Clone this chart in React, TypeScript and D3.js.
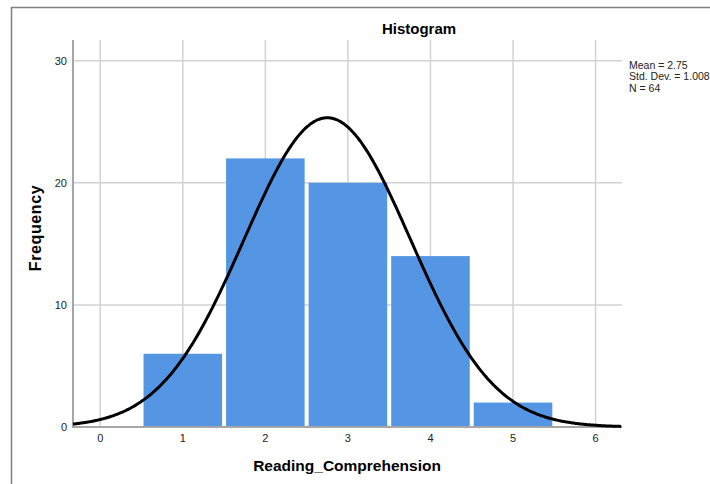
import * as d3 from "d3";

const bins = [1, 2, 3, 4, 5];
const counts = [6, 22, 20, 14, 2];
const xTickValues = [0, 1, 2, 3, 4, 5, 6];
const yTickValues = [0, 10, 20, 30];
const mean = 2.75;
const stdDev = 1.008;
const n = 64;
const statLines = ["Mean = 2.75", "Std. Dev. = 1.008", "N = 64"];

const W = 710;
const H = 484;
const plot = { left: 73, right: 622, top: 40, bottom: 427 };

export default function App() {
  const x = d3.scaleLinear().domain([-0.33, 6.32]).range([plot.left, plot.right]);
  const y = d3.scaleLinear().domain([0, 31.7]).range([plot.bottom, plot.top]);

  // fitted normal curve from the stated mean / sd, scaled to bin width 1
  const pdf = (v: number) =>
    (n / (stdDev * Math.sqrt(2 * Math.PI))) * Math.exp(-0.5 * ((v - mean) / stdDev) ** 2);
  const xs = d3.range(x.domain()[0], x.domain()[1] + 0.001, 0.02);
  const curve = d3
    .line<number>()
    .x((v) => x(v))
    .y((v) => y(pdf(v)))
    .curve(d3.curveBasis)(xs) ?? "";

  const font = "Arial, 'Liberation Sans', sans-serif";

  return (
    <div style={{ position: "fixed", left: 0, top: 0 }}>
      <svg width={W} height={H} style={{ display: "block", background: "#fff" }}>
        {/* outer frame (top + left only) */}
        <line x1={11} x2={W} y1={7.5} y2={7.5} stroke="#808080" strokeWidth={1.5} />
        <line x1={11.5} x2={11.5} y1={7} y2={H} stroke="#808080" strokeWidth={1.5} />

        {/* gridlines */}
        {yTickValues.filter((t) => t > 0).map((t) => (
          <line key={`gy${t}`} x1={plot.left} x2={plot.right} y1={y(t)} y2={y(t)} stroke="#d2d2d2" strokeWidth={1.5} />
        ))}
        {xTickValues.map((t) => (
          <line key={`gx${t}`} x1={x(t)} x2={x(t)} y1={plot.top} y2={plot.bottom} stroke="#d2d2d2" strokeWidth={1.5} />
        ))}

        {/* bars */}
        {bins.map((b, i) => {
          const x0 = x(b - 0.5) + 2;
          const x1 = x(b + 0.5) - 2;
          return (
            <rect key={b} x={x0} y={y(counts[i])} width={x1 - x0} height={y(0) - y(counts[i])} fill="#5596e4" />
          );
        })}

        {/* axes */}
        <line x1={plot.left} x2={plot.right} y1={plot.bottom} y2={plot.bottom} stroke="#a6a6a6" strokeWidth={2} />
        <line x1={plot.left} x2={plot.left} y1={plot.top} y2={plot.bottom + 1} stroke="#a6a6a6" strokeWidth={2} />

        {/* normal curve */}
        <path d={curve} fill="none" stroke="#000" strokeWidth={3} />

        {/* tick labels */}
        {yTickValues.map((t) => (
          <text key={`yt${t}`} x={67} y={y(t) + 4} textAnchor="end" fontSize={11} fill="#222" fontFamily={font}>
            {t}
          </text>
        ))}
        {xTickValues.map((t) => (
          <text key={`xt${t}`} x={x(t)} y={442} textAnchor="middle" fontSize={11} fill="#222" fontFamily={font}>
            {t}
          </text>
        ))}

        {/* titles */}
        <text x={419} y={34} textAnchor="middle" fontSize={15} fontWeight="bold" fill="#000" fontFamily={font}>
          Histogram
        </text>
        <text x={347} y={471} textAnchor="middle" fontSize={15.5} fontWeight="bold" fill="#000" fontFamily={font}>
          Reading_Comprehension
        </text>
        <text
          transform={`translate(41,228) rotate(-90)`}
          textAnchor="middle"
          fontSize={16}
          letterSpacing={0.6}
          fontWeight="bold"
          fill="#000"
          fontFamily={font}
        >
          Frequency
        </text>

        {/* stats legend */}
        {statLines.map((s, i) => (
          <text key={s} x={629} y={69 + i * 11.3} fontSize={10.5} fill="#222" fontFamily={font}>
            {s}
          </text>
        ))}
      </svg>
    </div>
  );
}
